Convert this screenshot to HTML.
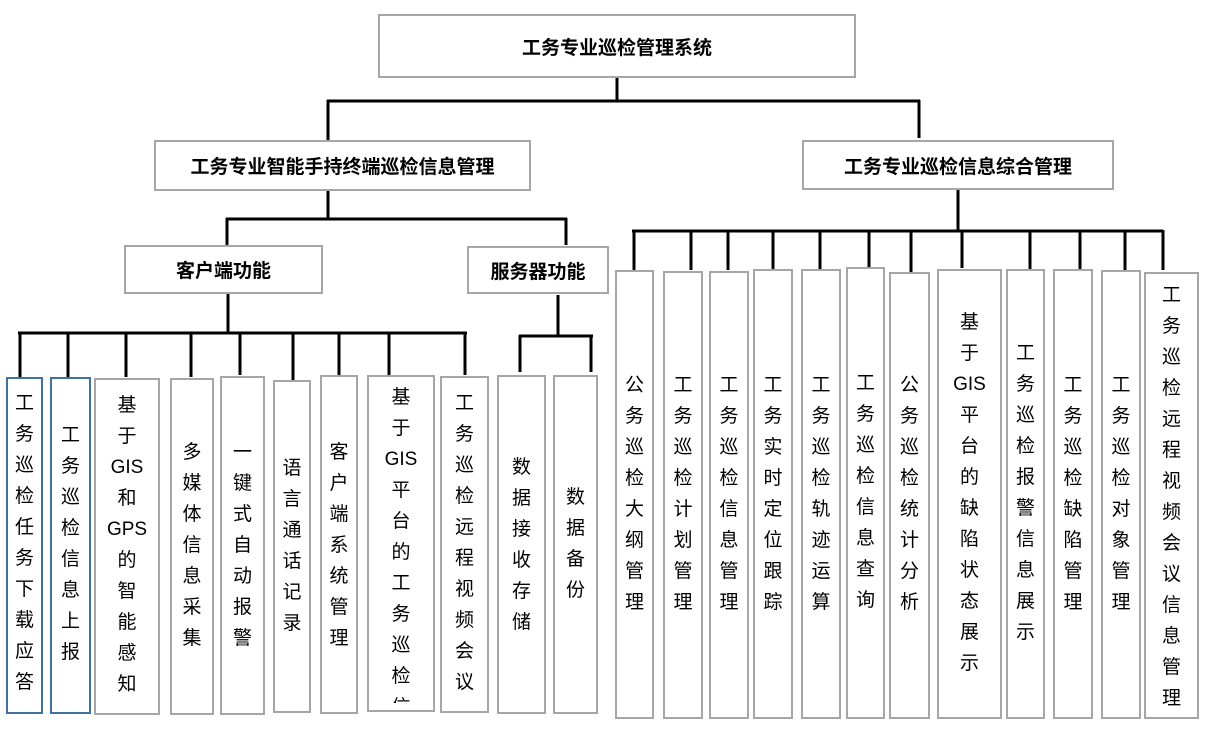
<!DOCTYPE html>
<html><head><meta charset="utf-8"><style>
body{margin:0;width:1221px;height:733px;background:#fff;position:relative;overflow:hidden;font-family:"Liberation Sans","Noto Sans CJK SC",sans-serif;}
.b{position:absolute;box-sizing:border-box;border:2px solid #a6a6a6;background:#fff;overflow:hidden}
.bl{border-color:#41719c}
.h{display:flex;align-items:center;justify-content:center;font-weight:bold;font-size:19px;color:#000}
.t{position:absolute;left:0;right:0;text-align:center;font-size:19px;line-height:31px;color:#000}
svg{position:absolute;left:0;top:0}
</style></head><body>
<svg width="1221" height="733">
<g stroke="#000" stroke-width="3" fill="none">
<path d="M617 77V100M327 101H920M328 100V140M919 100V138"/>
<path d="M328 190V218M226 219H567M227 218V245M566 218V245"/>
<path d="M228 293V333M18 333H467M20 332V377M68 332V377M126 332V377M191 332V377M240 332V375M293 332V380M339 332V375M389 332V375M465 332V375"/>
<path d="M558 295V336M519 336H593M520 335V372M591 335V372"/>
<path d="M958 189V231M632 231H1163M634 230V270M691 230V270M728 230V270M773 230V270M820 230V270M869 230V268M911 230V272M962 230V268M1030 230V270M1080 230V270M1125 230V270M1163 230V270"/>
</g></svg>

<div class="b h" style="left:378px;top:14px;width:478px;height:64px">工务专业巡检管理系统</div>
<div class="b h" style="left:154px;top:140px;width:377px;height:51px">工务专业智能手持终端巡检信息管理</div>
<div class="b h" style="left:802px;top:140px;width:312px;height:50px">工务专业巡检信息综合管理</div>
<div class="b h" style="left:124px;top:245px;width:199px;height:49px">客户端功能</div>
<div class="b h" style="left:467px;top:246px;width:142px;height:48px">服务器功能</div>

<div class="b bl" style="left:6px;top:377px;width:37px;height:337px"><div class="t" style="top:9px">工<br>务<br>巡<br>检<br>任<br>务<br>下<br>载<br>应<br>答</div></div>
<div class="b bl" style="left:50px;top:377px;width:41px;height:337px"><div class="t" style="top:41px">工<br>务<br>巡<br>检<br>信<br>息<br>上<br>报</div></div>
<div class="b" style="left:94px;top:378px;width:66px;height:337px"><div class="t" style="top:10px">基<br>于<br>GIS<br>和<br>GPS<br>的<br>智<br>能<br>感<br>知</div></div>
<div class="b" style="left:170px;top:378px;width:44px;height:337px"><div class="t" style="top:57px">多<br>媒<br>体<br>信<br>息<br>采<br>集</div></div>
<div class="b" style="left:220px;top:376px;width:45px;height:339px"><div class="t" style="top:59px">一<br>键<br>式<br>自<br>动<br>报<br>警</div></div>
<div class="b" style="left:273px;top:380px;width:38px;height:333px"><div class="t" style="top:71px">语<br>言<br>通<br>话<br>记<br>录</div></div>
<div class="b" style="left:320px;top:375px;width:38px;height:339px"><div class="t" style="top:60px">客<br>户<br>端<br>系<br>统<br>管<br>理</div></div>
<div class="b" style="left:367px;top:375px;width:68px;height:337px"><div style="position:absolute;left:0;right:0;top:0;height:326px;overflow:hidden"><div class="t" style="top:5px">基<br>于<br>GIS<br>平<br>台<br>的<br>工<br>务<br>巡<br>检<br>信</div></div></div>
<div class="b" style="left:440px;top:376px;width:49px;height:337px"><div class="t" style="top:10px">工<br>务<br>巡<br>检<br>远<br>程<br>视<br>频<br>会<br>议</div></div>
<div class="b" style="left:497px;top:375px;width:49px;height:339px"><div class="t" style="top:75px">数<br>据<br>接<br>收<br>存<br>储</div></div>
<div class="b" style="left:553px;top:375px;width:45px;height:339px"><div class="t" style="top:105px">数<br>据<br>备<br>份</div></div>

<div class="b" style="left:615px;top:270px;width:39px;height:449px"><div class="t" style="top:98px">公<br>务<br>巡<br>检<br>大<br>纲<br>管<br>理</div></div>
<div class="b" style="left:663px;top:271px;width:40px;height:448px"><div class="t" style="top:97px">工<br>务<br>巡<br>检<br>计<br>划<br>管<br>理</div></div>
<div class="b" style="left:709px;top:271px;width:40px;height:448px"><div class="t" style="top:97px">工<br>务<br>巡<br>检<br>信<br>息<br>管<br>理</div></div>
<div class="b" style="left:753px;top:269px;width:40px;height:450px"><div class="t" style="top:99px">工<br>务<br>实<br>时<br>定<br>位<br>跟<br>踪</div></div>
<div class="b" style="left:801px;top:269px;width:40px;height:450px"><div class="t" style="top:99px">工<br>务<br>巡<br>检<br>轨<br>迹<br>运<br>算</div></div>
<div class="b" style="left:846px;top:267px;width:39px;height:452px"><div class="t" style="top:99px">工<br>务<br>巡<br>检<br>信<br>息<br>查<br>询</div></div>
<div class="b" style="left:889px;top:272px;width:41px;height:447px"><div class="t" style="top:96px">公<br>务<br>巡<br>检<br>统<br>计<br>分<br>析</div></div>
<div class="b" style="left:937px;top:269px;width:65px;height:450px"><div class="t" style="top:36px">基<br>于<br>GIS<br>平<br>台<br>的<br>缺<br>陷<br>状<br>态<br>展<br>示</div></div>
<div class="b" style="left:1006px;top:269px;width:39px;height:450px"><div class="t" style="top:67px">工<br>务<br>巡<br>检<br>报<br>警<br>信<br>息<br>展<br>示</div></div>
<div class="b" style="left:1053px;top:269px;width:40px;height:450px"><div class="t" style="top:99px">工<br>务<br>巡<br>检<br>缺<br>陷<br>管<br>理</div></div>
<div class="b" style="left:1101px;top:270px;width:40px;height:449px"><div class="t" style="top:98px">工<br>务<br>巡<br>检<br>对<br>象<br>管<br>理</div></div>
<div class="b" style="left:1144px;top:272px;width:55px;height:447px"><div class="t" style="top:6px">工<br>务<br>巡<br>检<br>远<br>程<br>视<br>频<br>会<br>议<br>信<br>息<br>管<br>理</div></div>
</body></html>
